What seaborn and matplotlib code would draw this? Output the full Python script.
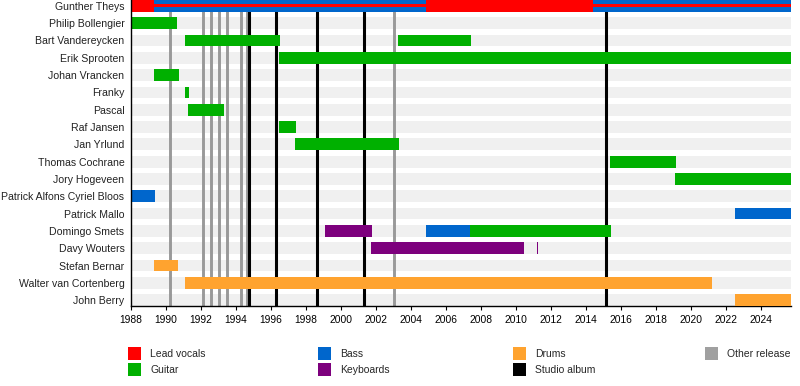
import numpy as np
import pandas as pd
import matplotlib
matplotlib.use("Agg")
import matplotlib.pyplot as plt
from matplotlib.patches import Patch
import seaborn as sns

sns.set_theme(style="white")
plt.rcParams['font.family'] = ['Liberation Sans', 'DejaVu Sans']

# ---------------- data ----------------
START = 1988.0
END = 2025.7

members = [
    "Gunther Theys", "Philip Bollengier", "Bart Vandereycken", "Erik Sprooten",
    "Johan Vrancken", "Franky", "Pascal", "Raf Jansen", "Jan Yrlund",
    "Thomas Cochrane", "Jory Hogeveen", "Patrick Alfons Cyriel Bloos",
    "Patrick Mallo", "Domingo Smets", "Davy Wouters", "Stefan Bernar",
    "Walter van Cortenberg", "John Berry",
]

span_member = [
    "Gunther Theys", "Gunther Theys", "Gunther Theys",
    "Philip Bollengier",
    "Bart Vandereycken", "Bart Vandereycken",
    "Erik Sprooten",
    "Johan Vrancken",
    "Franky",
    "Pascal",
    "Raf Jansen",
    "Jan Yrlund",
    "Thomas Cochrane",
    "Jory Hogeveen",
    "Patrick Alfons Cyriel Bloos",
    "Patrick Mallo",
    "Domingo Smets", "Domingo Smets", "Domingo Smets",
    "Davy Wouters", "Davy Wouters",
    "Stefan Bernar",
    "Walter van Cortenberg",
    "John Berry",
]
span_role = [
    "Bass", "Lead vocals", "Lead vocals",
    "Guitar",
    "Guitar", "Guitar",
    "Guitar",
    "Guitar",
    "Guitar",
    "Guitar",
    "Guitar",
    "Guitar",
    "Guitar",
    "Guitar",
    "Bass",
    "Bass",
    "Keyboards", "Bass", "Guitar",
    "Keyboards", "Keyboards",
    "Drums",
    "Drums",
    "Drums",
]
span_start = [
    1989.33, 1988.0, 2004.87,
    1988.0,
    1991.10, 2003.29,
    1996.46,
    1989.33,
    1991.10,
    1991.27,
    1996.46,
    1997.39,
    2015.39,
    2019.10,
    1988.0,
    2022.53,
    1999.10, 2004.87, 2007.39,
    2001.73, 2011.20,
    1989.33,
    1991.10,
    2022.53,
]
span_end = [
    END, 1989.33, 2014.40,
    1990.63,
    1996.51, 2007.45,
    END,
    1990.76,
    1991.33,
    1993.33,
    1997.45,
    2003.33,
    2019.16,
    END,
    1989.39,
    END,
    2001.79, 2007.39, 2015.45,
    2010.47, 2011.26,
    1990.70,
    2021.20,
    END,
]

# thin lead-vocal stripe drawn over the bass bar
overlay_member = ["Gunther Theys"]
overlay_role = ["Lead vocals"]
overlay_start = [1989.33]
overlay_end = [END]

role_names = ["Lead vocals", "Guitar", "Bass", "Keyboards", "Drums"]
role_colors = ["#ff0000", "#00b000", "#0066cc", "#7d007d", "#ffa32f"]

other_release = [1990.26, 1992.15, 1992.60, 1993.04, 1993.48, 1994.31, 1994.62, 2003.06]
studio_album = [1994.78, 1996.32, 1998.66, 2001.35, 2015.16]

x_ticks = list(range(1988, 2025, 2))

# ---------------- plot ----------------
color_of = dict(zip(role_names, role_colors))
row_of = {m: i for i, m in enumerate(members)}
BAR_H = 0.676

fig = plt.figure(figsize=(8.0, 3.86), dpi=100)
ax = fig.add_axes([130.7 / 800, 80 / 386, 660 / 800, 306 / 386])

# background bands
bg = pd.DataFrame({"member": members, "end": [END] * len(members)})
sns.barplot(data=bg, x="end", y="member", orient="h", color="#f0f0f0",
            saturation=1, width=BAR_H, linewidth=0, errorbar=None, ax=ax,
            zorder=1)

# release lines
for x in other_release:
    ax.axvline(x, color="#999999", lw=2.1, zorder=2)
for x in studio_album:
    ax.axvline(x, color="black", lw=2.2, zorder=2)

# member spans
spans = pd.DataFrame({"member": span_member, "role": span_role,
                      "start": span_start, "end": span_end})
for _, r in spans.iterrows():
    ax.barh(row_of[r["member"]], r["end"] - r["start"], left=r["start"],
            height=BAR_H, color=color_of[r["role"]], linewidth=0, zorder=3)

ov = pd.DataFrame({"member": overlay_member, "role": overlay_role,
                   "start": overlay_start, "end": overlay_end})
for _, r in ov.iterrows():
    ax.barh(row_of[r["member"]], r["end"] - r["start"], left=r["start"],
            height=0.19, color=color_of[r["role"]], linewidth=0, zorder=4)

ax.set_xlim(START, END)
ax.set_ylim(len(members) - 1 + BAR_H / 2, -BAR_H / 2)
ax.set_xticks(x_ticks)
ax.set_xticklabels([str(t) for t in x_ticks])
ax.set_yticks(range(len(members)))
ax.set_yticklabels(members)
ax.set_xlabel("")
ax.set_ylabel("")

for s in ["top", "right"]:
    ax.spines[s].set_visible(False)
for s in ["left", "bottom"]:
    ax.spines[s].set_visible(True)
    ax.spines[s].set_color("black")
    ax.spines[s].set_linewidth(1.0)
ax.spines["left"].set_zorder(5)
ax.tick_params(axis="y", length=0, pad=4.5, labelsize=7.55, colors="#222222")
ax.tick_params(axis="x", length=3, width=0.8, pad=3.5, labelsize=7.4,
               colors="black", bottom=True, direction="out")
ax.grid(False)

# legend columns
legend_cols = [
    [("Lead vocals", role_colors[0]), ("Guitar", role_colors[1])],
    [("Bass", role_colors[2]), ("Keyboards", role_colors[3])],
    [("Drums", role_colors[4]), ("Studio album", "black")],
    [("Other release", "#a0a0a0")],
]
legend_x = [128, 318, 513, 705]
for col, lx in zip(legend_cols, legend_x):
    handles = [Patch(facecolor=c, edgecolor="none", label=l) for l, c in col]
    leg = fig.legend(handles=handles, loc="upper left",
                     bbox_to_anchor=(lx / 800, 1 - 347 / 386),
                     bbox_transform=fig.transFigure, frameon=False,
                     fontsize=7.5, handlelength=1.2, handleheight=1.55,
                     handletextpad=0.95, labelspacing=0.3, borderpad=0,
                     borderaxespad=0)

fig.savefig("out.png", dpi=100)
